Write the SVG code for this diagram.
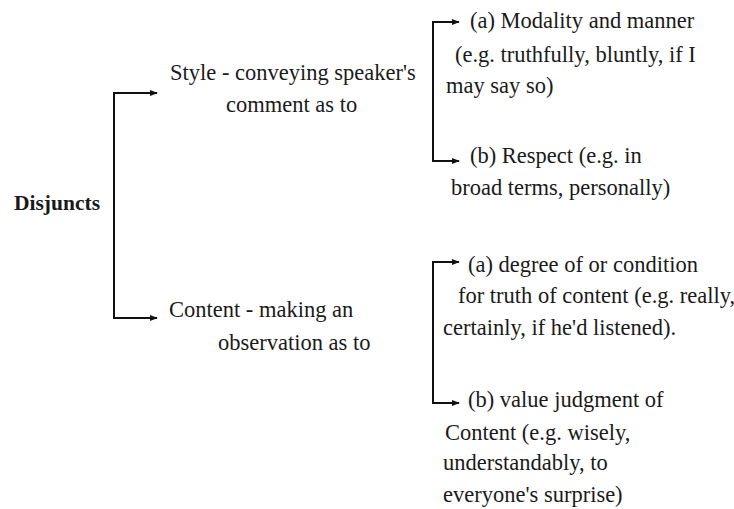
<svg xmlns="http://www.w3.org/2000/svg" width="734" height="509" viewBox="0 0 734 509">
<style>
text{font-family:"Liberation Serif","DejaVu Serif",serif;font-size:22.5px;fill:#1a1a1a}
.b{font-weight:bold;font-size:21.5px}
.c{fill:none;stroke:#111;stroke-width:2}
</style>
<defs>
<marker id="ah" viewBox="0 0 10 10" refX="9" refY="5" markerWidth="4" markerHeight="4" orient="auto-start-reverse" markerUnits="strokeWidth">
<path d="M0,1 L10,5 L0,9 z" fill="#111"/>
</marker>
</defs>
<rect width="734" height="509" fill="#fff"/>
<g id="connectors">
<path class="c" d="M157,93 H114 V318 H157" marker-start="url(#ah)" marker-end="url(#ah)"/>
<path class="c" d="M459,22 H433 V161 H459" marker-start="url(#ah)" marker-end="url(#ah)"/>
<path class="c" d="M459,262 H433 V403 H459" marker-start="url(#ah)" marker-end="url(#ah)"/>
</g>
<g id="disjuncts"><text class="b" x="14" y="210">Disjuncts</text></g>
<g id="style">
<text x="170" y="80">Style - conveying speaker's</text>
<text x="226" y="112">comment as to</text>
</g>
<g id="content">
<text x="169" y="317">Content - making an</text>
<text x="218" y="350">observation as to</text>
</g>
<g id="style-a">
<text x="470" y="28">(a) Modality and manner</text>
<text x="455" y="62">(e.g. truthfully, bluntly, if I</text>
<text x="446" y="93">may say so)</text>
</g>
<g id="style-b">
<text x="470" y="163">(b) Respect (e.g. in</text>
<text x="451" y="195">broad terms, personally)</text>
</g>
<g id="content-a">
<text x="468" y="272">(a) degree of or condition</text>
<text x="458" y="303">for truth of content (e.g. really,</text>
<text x="443" y="335">certainly, if he'd listened).</text>
</g>
<g id="content-b">
<text x="468" y="407">(b) value judgment of</text>
<text x="445" y="440">Content (e.g. wisely,</text>
<text x="443" y="470">understandably, to</text>
<text x="443" y="502">everyone's surprise)</text>
</g>
</svg>
